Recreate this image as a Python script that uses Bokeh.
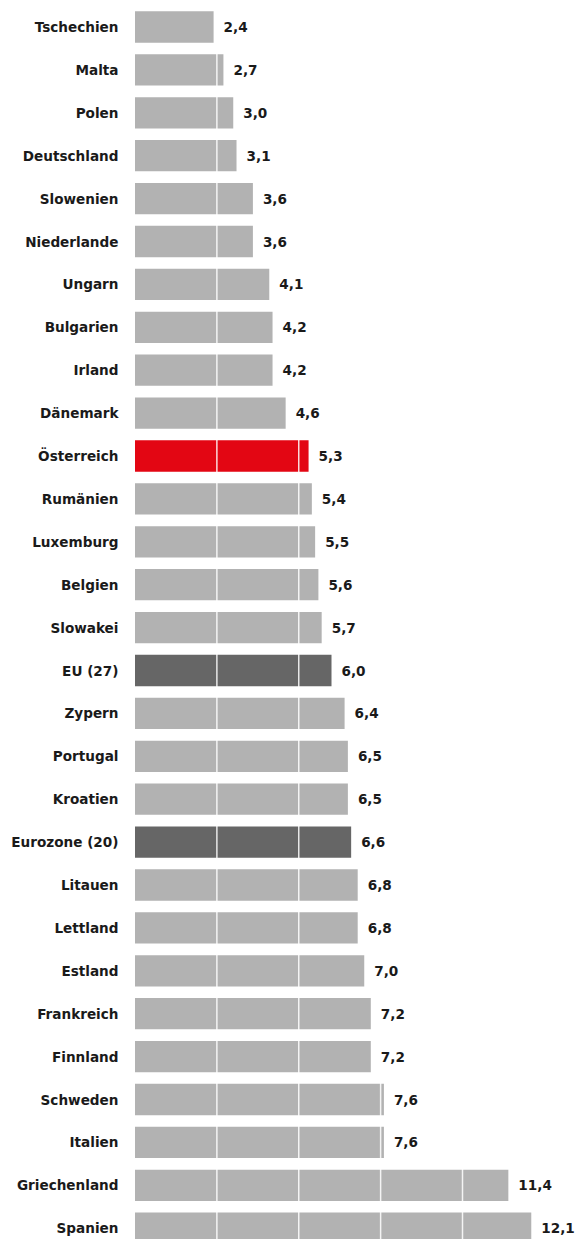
from bokeh.plotting import figure
from bokeh.models import ColumnDataSource, Range1d, Span
from bokeh.core.properties import value
from bokeh.embed import file_html
from bokeh.resources import INLINE

countries = ["Tschechien", "Malta", "Polen", "Deutschland", "Slowenien", "Niederlande",
             "Ungarn", "Bulgarien", "Irland", "Dänemark", "Österreich", "Rumänien",
             "Luxemburg", "Belgien", "Slowakei", "EU (27)", "Zypern", "Portugal",
             "Kroatien", "Eurozone (20)", "Litauen", "Lettland", "Estland", "Frankreich",
             "Finnland", "Schweden", "Italien", "Griechenland", "Spanien"]
values = [2.4, 2.7, 3.0, 3.1, 3.6, 3.6, 4.1, 4.2, 4.2, 4.6, 5.3, 5.4, 5.5, 5.6, 5.7,
          6.0, 6.4, 6.5, 6.5, 6.6, 6.8, 6.8, 7.0, 7.2, 7.2, 7.6, 7.6, 11.4, 12.1]
grid_ticks = [2.5, 5.0, 7.5, 10.0, 12.5]

GREY = "#b2b2b2"
RED = "#e30613"
DARK = "#666666"
colors = []
for c in countries:
    if c == "Österreich":
        colors.append(RED)
    elif c in ("EU (27)", "Eurozone (20)"):
        colors.append(DARK)
    else:
        colors.append(GREY)

source = ColumnDataSource(dict(
    y=list(range(len(countries))),
    v=values,
    zero=[0] * len(values),
    name=countries,
    label=[f"{v:.1f}".replace(".", ",") for v in values],
    color=colors,
))

W, H = 577, 1239
px_per_unit = 32.75
x0_px = 134.5          # zero position inside the frame
x_start = -x0_px / px_per_unit
x_end = x_start + W / px_per_unit

pitch = 42.9
first_center = 26.5
y_top = -first_center / pitch
y_bottom = y_top + H / pitch

p = figure(width=W, height=H, output_backend="svg", toolbar_location=None,
           x_range=Range1d(x_start, x_end), y_range=Range1d(y_bottom, y_top),
           min_border=0, outline_line_color=None, background_fill_color="white",
           border_fill_color="white")
p.axis.visible = False
p.grid.visible = False

p.hbar(y="y", left=0, right="v", height=0.73, fill_color="color", line_color=None,
       source=source)

for t in grid_ticks:
    p.add_layout(Span(location=t, dimension="height", line_color="white",
                      line_alpha=0.85, line_width=1.5))

font = value("DejaVu Sans")
r1 = p.text(x="zero", y="y", text="name", source=source, x_offset=-16.5,
            text_align="right", text_baseline="middle", text_font=font,
            text_font_style="bold", text_font_size="13.6px", text_color="#1a1a1a")
r2 = p.text(x="v", y="y", text="label", source=source, x_offset=10,
            text_align="left", text_baseline="middle", text_font=font,
            text_font_style="bold", text_font_size="13.6px", text_color="#1a1a1a")
r1.level = "overlay"
r2.level = "overlay"

open("out.html", "w").write(file_html(p, INLINE))
